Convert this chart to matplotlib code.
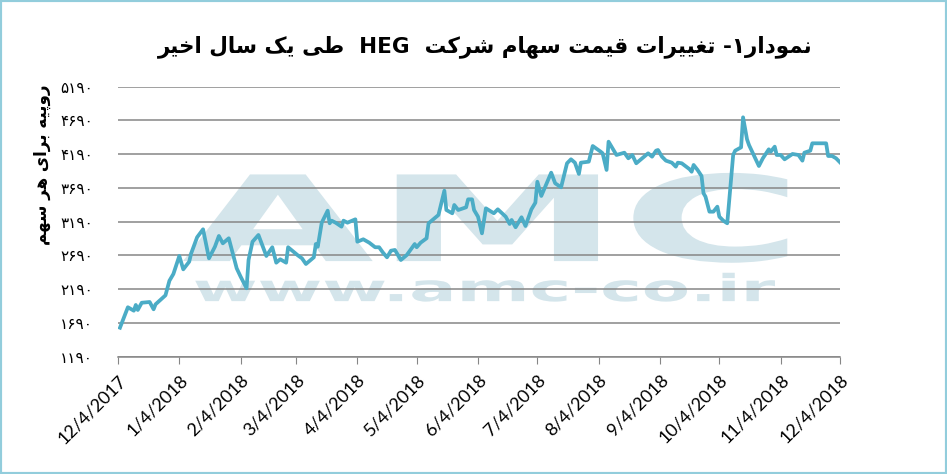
import numpy as np
import matplotlib
matplotlib.use("Agg")
import matplotlib.pyplot as plt
from matplotlib.textpath import TextPath
from matplotlib.patches import PathPatch, Rectangle
from matplotlib.font_manager import FontProperties
from matplotlib.transforms import Affine2D

# day offsets from 12/4/2017 and closing price
start = np.datetime64("2017-12-04")
days = [1, 5, 8, 9, 10, 12, 16, 18, 19, 24, 26, 28, 31, 33, 36, 37, 40, 43, 46, 49,
        51, 53, 56, 60, 62, 65, 66, 68, 71, 75, 78, 80, 82, 85, 86, 91, 93, 95, 99, 100,
        101, 103, 106, 107, 108, 110, 113, 114, 116, 120, 121, 124, 127, 130, 132, 134, 136, 138, 140, 143,
        146, 150, 151, 153, 156, 157, 159, 162, 165, 166, 169, 170, 172, 176, 177, 179, 180, 182, 184, 186,
        190, 192, 196, 198, 199, 201, 204, 206, 209, 211, 212, 214, 219, 221, 224, 227, 229, 231, 233, 234,
        238, 240, 244, 245, 247, 248, 252, 256, 258, 260, 262, 266, 268, 270, 272, 273, 275, 277, 280, 282,
        283, 285, 289, 290, 291, 293, 295, 296, 297, 299, 301, 303, 304, 306, 308, 311, 312, 315, 316, 318,
        319, 323, 324, 326, 329, 330, 332, 333, 335, 337, 341, 344, 346, 347, 350, 351, 358, 359, 361, 363,
        365]
price = [1620, 1923, 1872, 1957, 1883, 1990, 2001, 1893, 1967, 2100, 2316, 2416, 2683, 2485, 2598, 2722, 2960, 3078, 2648, 2820,
         2979, 2870, 2945, 2500, 2376, 2204, 2623, 2894, 2994, 2683, 2812, 2583, 2634, 2583, 2812, 2690, 2648, 2564, 2663, 2860,
         2820, 3176, 3354, 3167, 3206, 3176, 3117, 3206, 3176, 3226, 2894, 2930, 2880, 2812, 2812, 2731, 2663, 2761, 2772, 2623,
         2697, 2860, 2812, 2880, 2945, 3167, 3216, 3290, 3650, 3364, 3315, 3438, 3364, 3404, 3522, 3522, 3364, 3265, 3018, 3389,
         3315, 3374, 3265, 3157, 3216, 3108, 3256, 3127, 3374, 3472, 3783, 3572, 3917, 3760, 3700, 4056, 4115, 4065, 3898, 4065,
         4080, 4312, 4228, 4204, 3957, 4376, 4179, 4213, 4130, 4179, 4056, 4154, 4204, 4154, 4243, 4253, 4154, 4095, 4065, 4006,
         4065, 4056, 3967, 3931, 4031, 3957, 3868, 3612, 3562, 3339, 3339, 3413, 3265, 3206, 3167, 4179, 4243, 4292, 4737, 4411,
         4327, 4080, 4016, 4130, 4263, 4228, 4302, 4179, 4179, 4115, 4194, 4179, 4095, 4213, 4243, 4352, 4352, 4164, 4164, 4130,
         4070]
y_ticks = [1190, 1690, 2190, 2690, 3190, 3690, 4190, 4690, 5190]
month_ticks = ["2017-12-04", "2018-01-04", "2018-02-04", "2018-03-04", "2018-04-04", "2018-05-04", "2018-06-04",
               "2018-07-04", "2018-08-04", "2018-09-04", "2018-10-04", "2018-11-04", "2018-12-04"]

title_rtl_1 = "نمودار۱- تغییرات قیمت سهام شرکت"
title_ltr = "HEG"
title_rtl_2 = "طی یک سال اخیر"
y_title = "روپیه برای هر سهم"

# tiny persian shaper: isolated, final, initial, medial
FORMS = {
    "ا": ("\uFE8D", "\uFE8E", None, None), "ب": ("\uFE8F", "\uFE90", "\uFE91", "\uFE92"),
    "پ": ("\uFB56", "\uFB57", "\uFB58", "\uFB59"), "ت": ("\uFE95", "\uFE96", "\uFE97", "\uFE98"),
    "خ": ("\uFEA5", "\uFEA6", "\uFEA7", "\uFEA8"), "د": ("\uFEA9", "\uFEAA", None, None),
    "ر": ("\uFEAD", "\uFEAE", None, None), "س": ("\uFEB1", "\uFEB2", "\uFEB3", "\uFEB4"),
    "ش": ("\uFEB5", "\uFEB6", "\uFEB7", "\uFEB8"), "ط": ("\uFEC1", "\uFEC2", "\uFEC3", "\uFEC4"),
    "غ": ("\uFECD", "\uFECE", "\uFECF", "\uFED0"), "ق": ("\uFED5", "\uFED6", "\uFED7", "\uFED8"),
    "ک": ("\uFB8E", "\uFB8F", "\uFB90", "\uFB91"), "ل": ("\uFEDD", "\uFEDE", "\uFEDF", "\uFEE0"),
    "م": ("\uFEE1", "\uFEE2", "\uFEE3", "\uFEE4"), "ن": ("\uFEE5", "\uFEE6", "\uFEE7", "\uFEE8"),
    "ه": ("\uFEE9", "\uFEEA", "\uFEEB", "\uFEEC"), "و": ("\uFEED", "\uFEEE", None, None),
    "ی": ("\uFBFC", "\uFBFD", "\uFBFE", "\uFBFF"),
}


def shape(s):
    out = []
    for i, ch in enumerate(s):
        if ch not in FORMS:
            out.append(ch)
            continue
        prev = s[i - 1] if i > 0 else ""
        nxt = s[i + 1] if i + 1 < len(s) else ""
        jp = prev in FORMS and FORMS[prev][2] is not None
        jn = nxt in FORMS and FORMS[ch][2] is not None
        iso, fin, ini, med = FORMS[ch]
        out.append(med if jp and jn else fin if jp else ini if jn else iso)
    return "".join(reversed(out))


fa_digits = str.maketrans("0123456789", "۰۱۲۳۴۵۶۷۸۹")

plt.rcParams["font.family"] = ["DejaVu Sans"]
fig = plt.figure(figsize=(9.47, 4.74), dpi=100)
ax = fig.add_axes([0.1246, 0.2474, 0.7624, 0.5696])

x = start + np.array(days).astype("timedelta64[D]")
ax.plot(x, price, color="#4bacc6", lw=2.7, solid_joinstyle="round", zorder=3)

ax.set_ylim(1190, 5190)
ax.set_xlim(np.datetime64(month_ticks[0]), np.datetime64(month_ticks[-1]))
ax.set_yticks(y_ticks)
ax.set_yticklabels([str(v).translate(fa_digits) for v in y_ticks], fontsize=11)
ticks = [np.datetime64(d) for d in month_ticks]
ax.set_xticks(ticks)
labels = []
for d in month_ticks:
    yy, mm, dd = d.split("-")
    labels.append(f"{int(mm)}/{int(dd)}/{yy}")
ax.set_xticklabels(labels, rotation=45, ha="right", va="top", rotation_mode="anchor",
                   fontsize=13, family="Lato")
ax.tick_params(axis="y", length=0, pad=18)
ax.tick_params(axis="x", length=5, color="#868686", pad=6)
ax.grid(axis="y", color="#868686", lw=1.1)
ax.set_axisbelow(True)
for s in ["left", "right", "top"]:
    ax.spines[s].set_visible(False)
ax.spines["bottom"].set_color("#868686")
ax.spines["bottom"].set_linewidth(1.1)


# watermark stretched into a box (axes fraction)
def stamp(text, x0, x1, y0, y1):
    p = TextPath((0, 0), text, prop=FontProperties(family="DejaVu Sans", weight="bold"), size=1)
    e = p.get_extents()
    t = Affine2D().translate(-e.x0, -e.y0).scale((x1 - x0) / e.width, (y1 - y0) / e.height).translate(x0, y0)
    ax.add_patch(PathPatch(t.transform_path(p), transform=ax.transAxes, color="#d4e5eb", lw=0, zorder=0.1))


stamp("AMC", 0.090, 0.927, 0.348, 0.681)
stamp("www.amc-co.ir", 0.107, 0.910, 0.204, 0.311)

title = shape(title_rtl_2) + "  " + title_ltr + "  " + shape(title_rtl_1)
fig.text(0.512, 0.902, title, ha="center", va="center", fontsize=15.5, fontweight="bold")
fig.text(0.044, 0.652, shape(y_title), rotation=90, ha="center", va="center", fontsize=12, fontweight="bold")

fig.patches.append(Rectangle((0, 0), 1, 1, transform=fig.transFigure, fill=False,
                             edgecolor="#92cddc", lw=3))
fig.savefig("out.png", dpi=100)
